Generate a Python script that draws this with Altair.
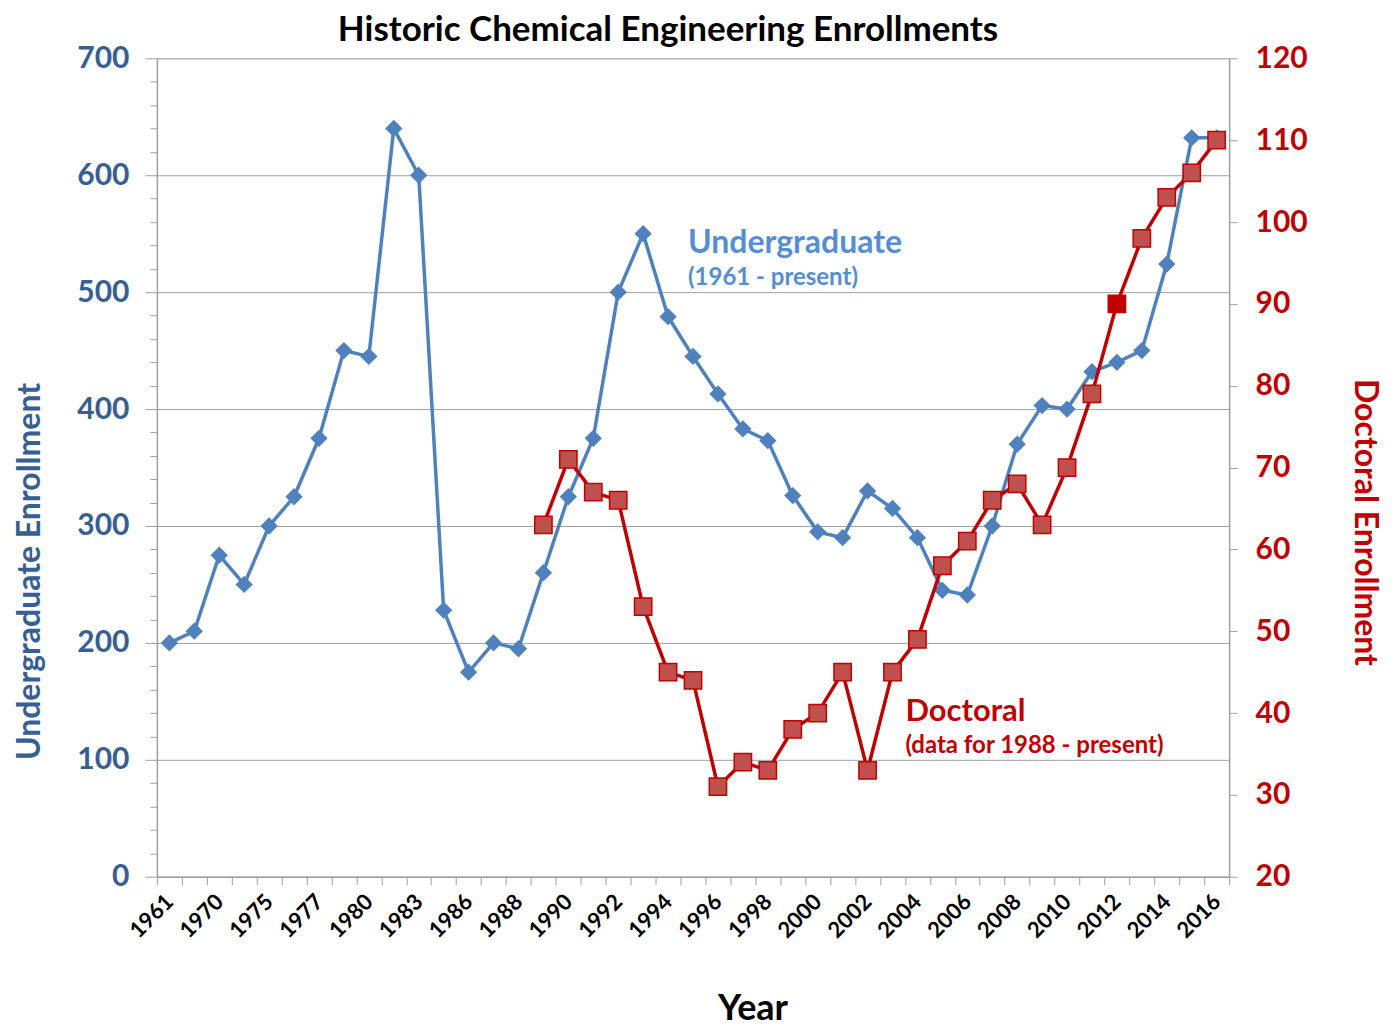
import altair as alt
import pandas as pd

# ---- data ----
years = [1961, 1965, 1970, 1973, 1975, 1976, 1977, 1979, 1980, 1982, 1983, 1985,
         1986, 1987, 1988, 1989, 1990, 1991, 1992, 1993, 1994, 1995, 1996, 1997,
         1998, 1999, 2000, 2001, 2002, 2003, 2004, 2005, 2006, 2007, 2008, 2009,
         2010, 2011, 2012, 2013, 2014, 2015, 2016]
undergrad = [200, 210, 275, 250, 300, 325, 375, 450, 445, 640, 600, 228, 175, 200,
             195, 260, 325, 375, 500, 550, 479, 445, 413, 383, 373, 326, 295, 290,
             330, 315, 290, 245, 241, 300, 370, 403, 400, 432, 440, 450, 524, 632, 632]
doctoral = [None] * 15 + [63, 71, 67, 66, 53, 45, 44, 31, 34, 33, 38, 40, 45, 33,
                          45, 49, 58, 61, 66, 68, 63, 70, 79, 90, 98, 103, 106, 110]
tick_labels = [1961, 1970, 1975, 1977, 1980, 1983, 1986, 1988, 1990, 1992, 1994,
               1996, 1998, 2000, 2002, 2004, 2006, 2008, 2010, 2012, 2014, 2016]
left_ticks = list(range(0, 701, 20))
right_ticks = list(range(20, 121, 10))

df = pd.DataFrame({"Year": years, "Undergraduate": undergrad, "Doctoral": doctoral})

FONT = "Lato"
BLUE = "#4F81BD"
BLUE_DARK = "#376092"
RED = "#C00000"
GRAY = "#A0A0A0"

label_expr = "indexof([" + ",".join(str(t) for t in tick_labels) + "], datum.value) >= 0 ? datum.label : ''"

x_scale = alt.Scale(domain=years, paddingInner=0, paddingOuter=0)
x_axis = alt.Axis(
    values=years, labelExpr=label_expr, labelAngle=-45, labelAlign="right",
    labelBaseline="middle", labelFontSize=22, labelFontWeight="bold",
    labelColor="black", labelFont=FONT, labelPadding=13, labelOverlap=False,
    tickBand="extent", tickSize=8, tickColor=GRAY, domainColor=GRAY,
    domainWidth=1.5, grid=False, title="Year", titleFontSize=36,
    titleFont=FONT, titleFontWeight="bold", titleColor="black",
    titlePadding=50, titleX=596,
)
x_enc = alt.X("Year:O", scale=x_scale, axis=x_axis)

left_axis = alt.Axis(
    values=left_ticks,
    labelExpr="datum.value % 100 === 0 ? datum.label : ''",
    labelFontSize=30, labelFont=FONT, labelFontWeight="bold", labelColor=BLUE_DARK,
    labelPadding=16, labelOverlap=False,
    tickColor=GRAY,
    tickSize={"condition": {"test": "datum.value % 100 === 0", "value": 12}, "value": 7},
    grid=True, gridColor=GRAY, gridWidth=1,
    gridOpacity={"condition": {"test": "datum.value % 100 === 0", "value": 1}, "value": 0},
    domainColor=GRAY, domainWidth=1.5,
    title="Undergraduate Enrollment", titleFontSize=32, titleFont=FONT,
    titleFontWeight="bold", titleColor=BLUE_DARK, titlePadding=30, titleY=513,
)
y_scale_left = alt.Scale(domain=[0, 700], nice=False)
y_left = alt.Y("Undergraduate:Q", scale=y_scale_left, axis=left_axis)

base = alt.Chart(df)

blue_line = base.mark_line(color=BLUE, strokeWidth=3.5).encode(x=x_enc, y=y_left)
blue_pts = base.mark_point(shape="diamond", filled=True, color=BLUE, size=300, opacity=1).encode(
    x=x_enc, y=y_left)

one_row = alt.Data(values=[{}])


def ann(text, yr, val, size, color, dx):
    return alt.Chart(one_row).mark_text(
        text=text, font=FONT, fontWeight="bold", fontSize=size, color=color,
        align="left", baseline="middle", dx=dx,
    ).encode(
        x=alt.XDatum(yr, type="ordinal", scale=x_scale, axis=x_axis),
        y=alt.YDatum(val, type="quantitative", scale=y_scale_left, axis=left_axis),
    )


ann_layers = [
    ann("Undergraduate", 1995, 542, 32, "#558ED5", -5),
    ann("(1961 - present)", 1995, 512, 24, "#558ED5", -5),
    ann("Doctoral", 2004, 141, 31, RED, -12),
    ann("(data for 1988 - present)", 2004, 112, 24, RED, -12),
]

blue = alt.layer(blue_line, blue_pts, *ann_layers)

right_axis = alt.Axis(
    orient="right", values=right_ticks, labelFontSize=30, labelFont=FONT,
    labelFontWeight="bold", labelColor=RED, labelPadding=18, tickSize=8,
    labelOverlap=False,
    tickColor=GRAY, grid=False, domainColor=GRAY, domainWidth=1.5,
    title="Doctoral Enrollment", titleFontSize=32, titleFont=FONT,
    titleFontWeight="bold", titleColor=RED, titlePadding=40, titleY=464,
)
y_right = alt.Y("Doctoral:Q", scale=alt.Scale(domain=[20, 120], nice=False), axis=right_axis)

red_base = base.transform_filter("isValid(datum.Doctoral)")
red_line = red_base.mark_line(color=RED, strokeWidth=3.5, clip=True).encode(x=x_enc, y=y_right)
red_pts = red_base.mark_point(shape="square", filled=True, size=300, stroke=RED,
                              strokeWidth=1.5, opacity=1, clip=True).encode(
    x=x_enc, y=y_right,
    fill=alt.condition(alt.datum.Year == 2012, alt.value(RED), alt.value("#C0504D")),
)
red = alt.layer(red_line, red_pts)

chart = (
    alt.layer(blue, red)
    .resolve_scale(y="independent", x="shared")
    .resolve_axis(x="shared")
    .properties(
        width=1073, height=819,
        title=alt.TitleParams("Historic Chemical Engineering Enrollments", fontSize=35,
                              font=FONT, fontWeight="bold", color="black", dx=-25,
                              offset=-5),
    )
    .configure_view(stroke=None)
    .configure(background="white")
)

chart.save("out.html", embed_options={"renderer": "svg", "actions": False})
